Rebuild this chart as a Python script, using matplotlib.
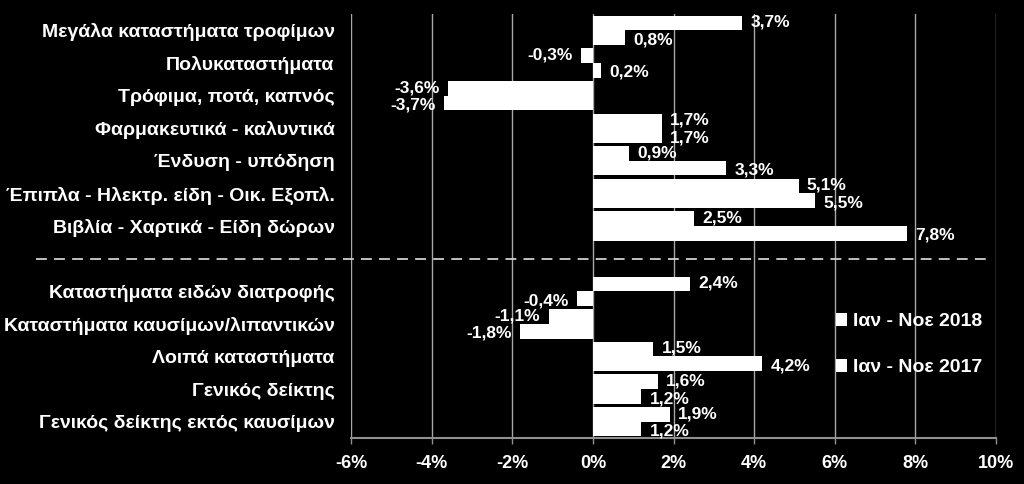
import matplotlib
matplotlib.use("Agg")
import matplotlib.pyplot as plt
from matplotlib.transforms import blended_transform_factory

plt.rcParams['font.family'] = ['Liberation Sans', 'DejaVu Sans']

# categories, top to bottom (gap between the two groups)
cats_a = ["Μεγάλα καταστήματα τροφίμων", "Πολυκαταστήματα", "Τρόφιμα, ποτά, καπνός",
          "Φαρμακευτικά - καλυντικά", "Ένδυση - υπόδηση",
          "Έπιπλα - Ηλεκτρ. είδη - Οικ. Εξοπλ.", "Βιβλία - Χαρτικά - Είδη δώρων"]
cats_b = ["Καταστήματα ειδών διατροφής", "Καταστήματα καυσίμων/λιπαντικών",
          "Λοιπά καταστήματα", "Γενικός δείκτης", "Γενικός δείκτης εκτός καυσίμων"]

v2018_a = [3.7, -0.3, -3.6, 1.7, 0.9, 5.1, 2.5]
v2017_a = [0.8, 0.2, -3.7, 1.7, 3.3, 5.5, 7.8]
v2018_b = [2.4, -1.1, 1.5, 1.6, 1.9]
v2017_b = [-0.4, -1.8, 4.2, 1.2, 1.2]

xticks = [-6, -4, -2, 0, 2, 4, 6, 8, 10]

cats = cats_a + cats_b
v2018 = v2018_a + v2018_b
v2017 = v2017_a + v2017_b
gap = len(cats_a)
pos = list(range(gap)) + [p + 1 for p in range(gap, len(cats))]

fig = plt.figure(figsize=(10.24, 4.84), dpi=100, facecolor="black")
ax = fig.add_axes([0.343, 0.095, 0.6297, 0.876], facecolor="black")

h = 0.45
b1 = ax.barh([p - h / 2 for p in pos], v2018, h, color="white", label="Ιαν - Νοε 2018", zorder=3)
b2 = ax.barh([p + h / 2 for p in pos], v2017, h, color="white", label="Ιαν - Νοε 2017", zorder=3)

# value labels (top bar nudged up, bottom bar nudged down)
for bars, vals, dy in ((b1, v2018, 0.5), (b2, v2017, -1.5)):
    for r, v in zip(bars, vals):
        y = r.get_y() + r.get_height() / 2
        ax.annotate(f"{v:.1f}%".replace(".", ","), (v, y),
                    xytext=(6 if v >= 0 else -6, dy), textcoords="offset points",
                    ha="left" if v >= 0 else "right", va="center",
                    color="white", fontsize=12.5, fontweight="bold", zorder=4)

ax.set_xlim(-6, 10)
ax.set_ylim(len(cats) + 0.5, -0.5)
ax.set_xticks(xticks)
ax.set_xticklabels([f"{t}%" for t in xticks], color="white", fontsize=13, fontweight="bold")
ax.set_yticks(pos)
ax.set_yticklabels(cats, color="white", fontsize=14, fontweight="bold")
ax.tick_params(axis="y", length=0, pad=12)
ax.tick_params(axis="x", length=4, color="#909090", width=1, pad=8)
ax.grid(axis="x", color="#a8a8a8", linewidth=1, zorder=1)
for s in ("top", "right", "left"):
    ax.spines[s].set_visible(False)
ax.spines["bottom"].set_color("#909090")
ax.spines["bottom"].set_linewidth(1.5)

# dashed separator between the two groups
tr = blended_transform_factory(fig.transFigure, ax.transData)
ax.plot([0.035, 0.964], [gap, gap], transform=tr, color="#d0d0d0",
        linestyle=(0, (6, 4)), linewidth=1.3, clip_on=False, zorder=2)

leg = fig.legend(handles=[b1, b2], loc="upper left", bbox_to_anchor=(0.799, 0.389),
                 frameon=False, handlelength=0.6, handleheight=0.6, handletextpad=0.3,
                 labelspacing=1.5, prop={"size": 14, "weight": "bold"})
for t in leg.get_texts():
    t.set_color("white")

fig.savefig("out.png", dpi=100, facecolor="black")
